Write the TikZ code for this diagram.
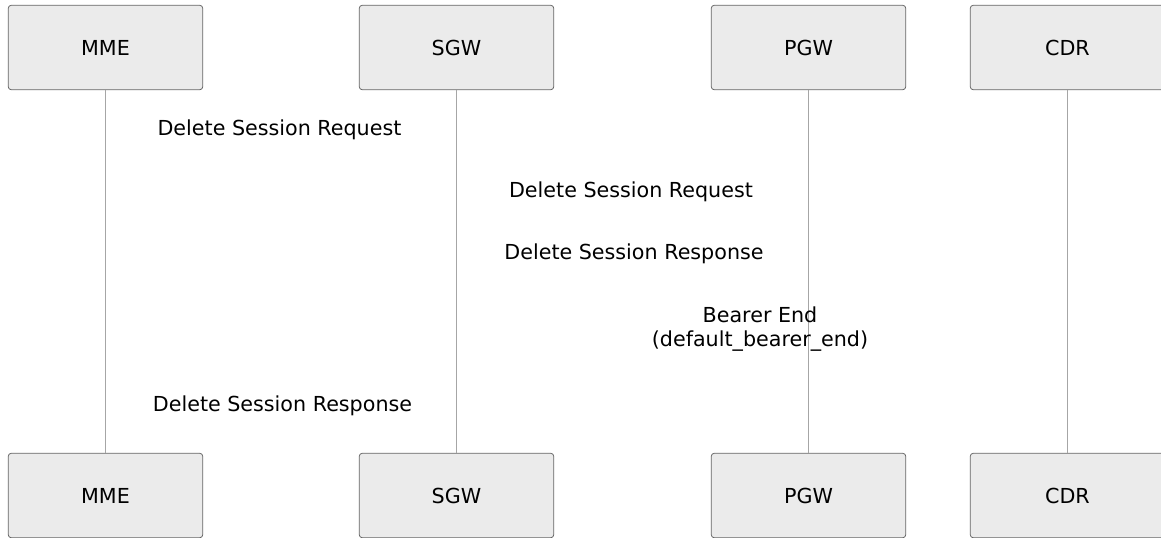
\documentclass[tikz,border=0pt]{standalone}
\usepackage{fontspec}
\setmainfont{DejaVu Sans}
\usepackage{tikz}

\begin{document}
\begin{tikzpicture}[x=0.75pt, y=-0.75pt,
	actor/.style={draw=black!60, line width=0.6pt, fill=black!8, rounded corners=2.5pt, minimum width=146pt, minimum height=63.5pt, inner sep=0pt, font=\fontsize{15.5}{18}\selectfont},
	lifeline/.style={draw=black!35, line width=0.6pt},
	msg/.style={font=\fontsize{15.5}{18}\selectfont, align=center, inner sep=0pt}]
	\useasboundingbox (0,0) rectangle (1161,537);

	\node[actor] (mme) at (105.5,47.5) {MME};
	\node[actor] (sgw) at (456.5,47.5) {SGW};
	\node[actor] (pgw) at (808.5,47.5) {PGW};
	\node[actor] (cdr) at (1067.5,47.5) {CDR};

	\node[actor] (mme-end) at (105.5,495.5) {MME};
	\node[actor] (sgw-end) at (456.5,495.5) {SGW};
	\node[actor] (pgw-end) at (808.5,495.5) {PGW};
	\node[actor] (cdr-end) at (1067.5,495.5) {CDR};

	\draw[lifeline] (mme) -- (mme-end);
	\draw[lifeline] (sgw) -- (sgw-end);
	\draw[lifeline] (pgw) -- (pgw-end);
	\draw[lifeline] (cdr) -- (cdr-end);

	\node[msg] (req1) at (279.5,130) {Delete Session Request};
	\node[msg] (req2) at (631,192) {Delete Session Request};
	\node[msg] (resp2) at (634,254) {Delete Session Response};
	\node[msg] (bearer) at (760,329) {Bearer End\\(default\_bearer\_end)};
	\node[msg] (resp1) at (282.5,406) {Delete Session Response};

\end{tikzpicture}
\end{document}
